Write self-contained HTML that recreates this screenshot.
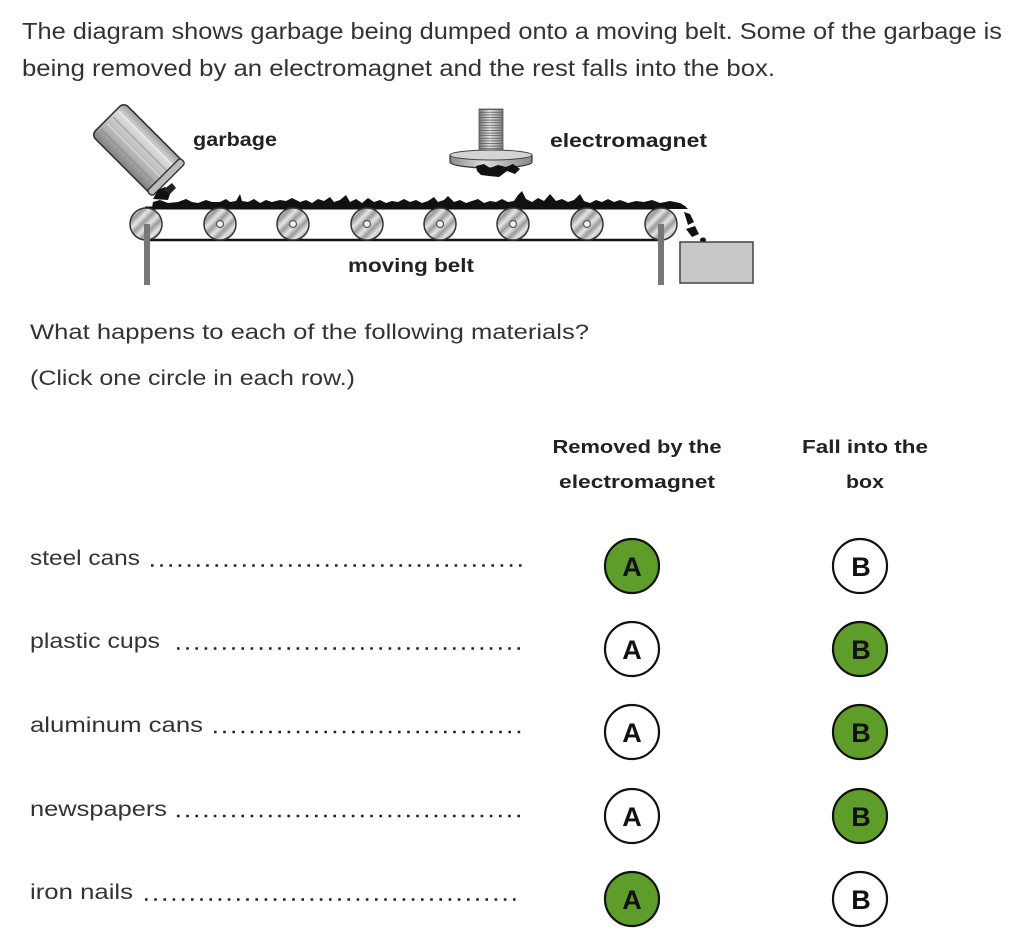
<!DOCTYPE html>
<html><head><meta charset="utf-8"><style>
html,body{margin:0;padding:0;background:#fff;}
svg{display:block;}
text{font-family:"Liberation Sans",Arial,sans-serif;}
</style></head><body>
<svg width="1024" height="933" viewBox="0 0 1024 933" xmlns="http://www.w3.org/2000/svg">
<defs>
<linearGradient id="rg" x1="0" y1="0" x2="0.22" y2="0.22" spreadMethod="repeat">
<stop offset="0" stop-color="#9a9a9a"/><stop offset="0.5" stop-color="#e6e6e6"/><stop offset="1" stop-color="#9a9a9a"/>
</linearGradient>
<linearGradient id="can" x1="0" y1="0" x2="0" y2="1">
<stop offset="0" stop-color="#a0a0a0"/><stop offset="0.25" stop-color="#dadada"/><stop offset="0.45" stop-color="#c8c8c8"/><stop offset="0.7" stop-color="#b0b0b0"/><stop offset="1" stop-color="#808080"/>
</linearGradient>
<linearGradient id="bolt" x1="0" y1="0" x2="1" y2="0">
<stop offset="0" stop-color="#7a7a7a"/><stop offset="0.45" stop-color="#e6e6e6"/><stop offset="1" stop-color="#808080"/>
</linearGradient>
<linearGradient id="disk" x1="0" y1="0" x2="1" y2="0">
<stop offset="0" stop-color="#8a8a8a"/><stop offset="0.4" stop-color="#dcdcdc"/><stop offset="1" stop-color="#888"/>
</linearGradient>
<pattern id="thread" width="25" height="2.6" patternUnits="userSpaceOnUse">
<line x1="0" y1="0.5" x2="25" y2="0.5" stroke="#555" stroke-width="0.8"/>
</pattern>
</defs>

<!-- intro text -->
<text x="22" y="39" font-size="23" fill="#333" textLength="980" lengthAdjust="spacingAndGlyphs">The diagram shows garbage being dumped onto a moving belt. Some of the garbage is</text>
<text x="22" y="76" font-size="23" fill="#333" textLength="753" lengthAdjust="spacingAndGlyphs">being removed by an electromagnet and the rest falls into the box.</text>

<!-- garbage can -->
<g transform="translate(138,149) rotate(45)">
<rect x="-43" y="-23" width="86" height="46" rx="6" fill="url(#can)" stroke="#333" stroke-width="1.6"/>
<line x1="-40" y1="-13" x2="36" y2="-13" stroke="#eee" stroke-width="1.5"/>
<line x1="-40" y1="-5" x2="36" y2="-5" stroke="#a0a0a0" stroke-width="1.2"/>
<line x1="-40" y1="4" x2="36" y2="4" stroke="#d4d4d4" stroke-width="1.5"/>
<line x1="-40" y1="12" x2="36" y2="12" stroke="#909090" stroke-width="1.2"/>
<rect x="36" y="-23.5" width="7.5" height="47" rx="3" fill="#bcbcbc" stroke="#333" stroke-width="1.4"/>
</g>
<text x="193" y="146" font-size="19" font-weight="bold" fill="#222" textLength="84" lengthAdjust="spacingAndGlyphs">garbage</text>

<!-- electromagnet -->
<rect x="479" y="109" width="24" height="46" fill="url(#bolt)" stroke="#555" stroke-width="0.8"/>
<rect x="479" y="109" width="24" height="46" fill="url(#thread)"/>
<path d="M450,155 L450,162 A41,6 0 0 0 532,162 L532,155 Z" fill="url(#disk)" stroke="#333" stroke-width="1.2"/>
<ellipse cx="491" cy="155" rx="41" ry="5" fill="#d4d4d4" stroke="#444" stroke-width="1"/>
<path d="M476,166 L484,164 L490,168 L498,165 L506,167 L513,164 L520,169 L515,174 L507,171 L499,177 L489,176 L481,175 L477,171 Z" fill="#111"/>
<text x="550" y="147" font-size="19" font-weight="bold" fill="#222" textLength="157" lengthAdjust="spacingAndGlyphs">electromagnet</text>

<!-- belt -->
<path d="M145,208 L661,208" stroke="#111" stroke-width="3"/>
<path d="M145,240 L661,240" stroke="#111" stroke-width="2.5"/>

<!-- garbage on belt -->
<path d="M152,208 L153,202 L160,200 L168,203 L178,202 L186,199 L192,202 L198,203 L206,200 L212,202 L220,202 L226,199 L230,202 L236,201 L240,194 L242,201 L248,202 L254,199 L260,203 L266,200 L272,202 L280,200 L286,201 L292,198 L300,202 L306,200 L312,203 L318,199 L324,201 L330,197 L334,202 L340,200 L346,195 L350,202 L356,199 L362,203 L368,198 L374,202 L380,200 L386,203 L392,201 L398,202 L404,199 L410,202 L416,200 L422,203 L428,201 L434,197 L438,202 L444,200 L448,196 L454,202 L460,200 L466,203 L472,201 L478,199 L484,203 L490,201 L496,202 L502,199 L508,202 L514,201 L518,195 L522,191 L526,199 L532,202 L538,198 L544,201 L550,194 L556,201 L562,199 L568,202 L574,200 L580,194 L584,201 L590,203 L596,200 L602,202 L608,199 L614,202 L620,200 L628,203 L636,201 L644,202 L652,200 L660,203 L670,201 L680,203 L685,206 L688,209 L152,209 Z" fill="#111"/>
<path d="M153,199 L158,190 L165,187 L171,191 L168,200 Z" fill="#111"/>
<path d="M163,190 L172,183 L176,188 L170,194 Z" fill="#222"/>
<path d="M684,212 L690,214 L694,222 L688,225 Z" fill="#111"/>
<path d="M686,229 L695,226 L699,234 L692,237 Z" fill="#111"/>
<ellipse cx="703" cy="240" rx="3" ry="2.5" fill="#111"/>

<!-- rollers -->
<g stroke="#333" stroke-width="1.5" fill="url(#rg)">
<circle cx="146" cy="224" r="16"/>
<circle cx="220" cy="224" r="16"/>
<circle cx="293" cy="224" r="16"/>
<circle cx="367" cy="224" r="16"/>
<circle cx="440" cy="224" r="16"/>
<circle cx="513" cy="224" r="16"/>
<circle cx="587" cy="224" r="16"/>
<circle cx="661" cy="224" r="16"/>
</g>
<g stroke="#555" stroke-width="1.2" fill="#f2f2f2">
<circle cx="220" cy="224" r="3.5"/>
<circle cx="293" cy="224" r="3.5"/>
<circle cx="367" cy="224" r="3.5"/>
<circle cx="440" cy="224" r="3.5"/>
<circle cx="513" cy="224" r="3.5"/>
<circle cx="587" cy="224" r="3.5"/>
</g>
<rect x="144" y="224" width="6" height="61" fill="#777"/>
<rect x="658" y="224" width="6" height="61" fill="#777"/>

<!-- box -->
<rect x="680" y="242" width="73" height="41" fill="#c8c8c8" stroke="#444" stroke-width="1.5"/>

<text x="348" y="272" font-size="19" font-weight="bold" fill="#222" textLength="126" lengthAdjust="spacingAndGlyphs">moving belt</text>

<!-- question -->
<text x="30" y="339" font-size="21" fill="#333" textLength="559" lengthAdjust="spacingAndGlyphs">What happens to each of the following materials?</text>
<text x="30" y="385" font-size="21" fill="#333" textLength="325" lengthAdjust="spacingAndGlyphs">(Click one circle in each row.)</text>

<!-- headers -->
<g font-size="18" font-weight="bold" fill="#222" text-anchor="middle">
<text x="637" y="453" textLength="169" lengthAdjust="spacingAndGlyphs">Removed by the</text>
<text x="637" y="488" textLength="156" lengthAdjust="spacingAndGlyphs">electromagnet</text>
<text x="865" y="453" textLength="126" lengthAdjust="spacingAndGlyphs">Fall into the</text>
<text x="865" y="488" textLength="38" lengthAdjust="spacingAndGlyphs">box</text>
</g>

<!-- rows -->
<g font-size="21" fill="#333">
<text x="30" y="565" textLength="110" lengthAdjust="spacingAndGlyphs">steel cans</text>
<text x="30" y="648" textLength="130" lengthAdjust="spacingAndGlyphs">plastic cups</text>
<text x="30" y="732" textLength="173" lengthAdjust="spacingAndGlyphs">aluminum cans</text>
<text x="30" y="816" textLength="137" lengthAdjust="spacingAndGlyphs">newspapers</text>
<text x="30" y="899" textLength="103" lengthAdjust="spacingAndGlyphs">iron nails</text>
</g>
<g stroke="#222" stroke-width="2.6" stroke-dasharray="2.6 6.6">
<line x1="151" y1="565.5" x2="522" y2="565.5"/>
<line x1="177" y1="648.5" x2="522" y2="648.5"/>
<line x1="214" y1="732" x2="522" y2="732"/>
<line x1="177" y1="816" x2="522" y2="816"/>
<line x1="145" y1="899.5" x2="522" y2="899.5"/>
</g>

<!-- circles -->
<g stroke="#111" stroke-width="2.2">
<circle cx="632" cy="566" r="27" fill="#5f9d2a"/>
<circle cx="860" cy="566" r="27" fill="#fff"/>
<circle cx="632" cy="649" r="27" fill="#fff"/>
<circle cx="860" cy="649" r="27" fill="#5f9d2a"/>
<circle cx="632" cy="732" r="27" fill="#fff"/>
<circle cx="860" cy="732" r="27" fill="#5f9d2a"/>
<circle cx="632" cy="816" r="27" fill="#fff"/>
<circle cx="860" cy="816" r="27" fill="#5f9d2a"/>
<circle cx="632" cy="899" r="27" fill="#5f9d2a"/>
<circle cx="860" cy="899" r="27" fill="#fff"/>
</g>
<g font-size="27" font-weight="bold" fill="#111" text-anchor="middle">
<text x="632" y="576">A</text><text x="861" y="576">B</text>
<text x="632" y="659">A</text><text x="861" y="659">B</text>
<text x="632" y="742">A</text><text x="861" y="742">B</text>
<text x="632" y="826">A</text><text x="861" y="826">B</text>
<text x="632" y="909">A</text><text x="861" y="909">B</text>
</g>
</svg>
</body></html>
